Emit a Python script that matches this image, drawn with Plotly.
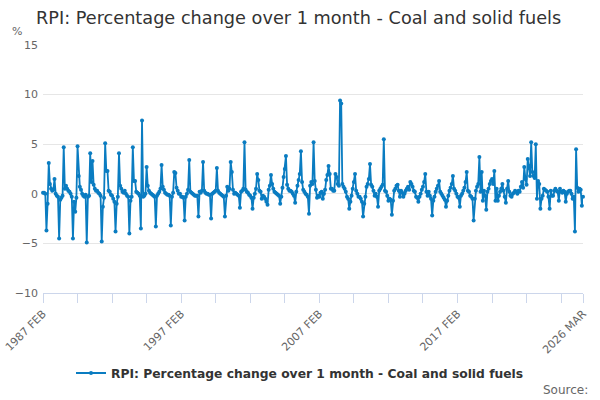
import plotly.graph_objects as go

# Monthly values (% change over 1 month), Feb 1987 .. Mar 2026
y1987 = [0.1, 0.1, 0.0, -3.7, -1.0, 3.1, 1.0, 0.5, 0.3, 0.4, 1.5]  # Feb-Dec
y1988 = [0.0, -0.2, -0.3, -4.5, -0.6, -0.4, -0.2, 4.7, 0.5, 0.8, 0.5, 0.3]
y1989 = [0.2, 0.0, -0.3, -4.5, -0.8, -1.8, -0.4, 4.8, 1.8, 0.7, 0.4, 0.0]
y1990 = [-0.2, -0.3, -0.1, -4.9, -0.3, -0.2, 4.1, 1.2, 3.3, 0.9, 0.5, 0.3]
y1991 = [0.3, 0.1, 0.0, -0.2, -4.8, -1.3, -0.4, 5.1, 2.3, 2.3, 0.3, 0.2]
y1992 = [-0.1, -0.2, -0.5, -0.8, -3.8, -1.0, -0.3, 4.1, 0.8, 0.5, 0.2, 0.1]
y1993 = [0.3, 0.0, -0.2, -0.3, -4.0, -0.7, -0.3, 4.7, 1.3, 1.3, 0.2, 0.1]
y1994 = [0.0, -0.2, -3.5, 7.4, -0.3, -0.2, 0.0, 2.7, 0.8, 0.3, 0.1, 0.0]
y1995 = [-0.1, -0.2, -0.3, -3.3, -0.2, 0.0, 0.2, 0.5, 2.9, 0.7, 0.4, 0.1]
y1996 = [0.0, -0.1, -0.1, -0.2, -3.2, -0.3, 0.1, 2.2, 2.1, 0.6, 0.3, 0.0]
y1997 = [0.0, -0.3, -0.3, -0.4, -2.7, -0.3, 0.0, 0.4, 3.4, 0.2, 0.1, 0.0]
y1998 = [-0.1, -0.2, -0.2, -0.2, -2.3, 0.2, 0.1, 0.3, 3.2, 0.3, 0.1, 0.0]
y1999 = [0.0, -0.1, -0.1, -2.5, 0.0, 0.1, 0.2, 0.3, 2.6, 0.3, 0.1, 0.0]
y2000 = [-0.1, -0.2, -0.3, -2.3, -0.2, 0.7, 0.3, 0.5, 3.2, 2.2, 0.4, 0.0]
y2001 = [0.1, 0.0, -0.1, -0.2, -1.4, 0.2, 0.3, 0.5, 5.2, 0.4, 0.2, 0.1]
y2002 = [-0.1, -0.2, -0.4, -1.5, -0.4, 0.0, 0.5, 2.0, 1.4, 0.3, 0.2, -0.5]
y2003 = [-0.2, -0.3, -0.5, -0.8, -1.1, 0.4, 0.8, 1.9, 1.0, 0.5, 0.2, 0.1]
y2004 = [0.0, -0.1, -0.2, -1.0, -0.3, 0.6, 1.7, 2.5, 3.8, 0.9, 0.5, 0.3]
y2005 = [0.3, 0.2, 0.0, -0.2, -0.9, 0.2, 0.8, 1.4, 2.0, 4.3, 1.2, 0.4]
y2006 = [0.2, 0.0, -0.1, -0.3, -2.0, 0.8, 1.2, 1.0, 5.2, 1.3, 0.4, -0.4]
y2007 = [-0.2, -0.3, 0.1, 0.2, -0.5, 0.0, 0.4, 1.4, 1.9, 2.8, 2.0, 0.5]
y2008 = [0.5, 0.3, 0.3, 2.0, 1.7, 1.0, 0.8, 9.4, 9.1, 1.0, 0.7, 0.5]
y2009 = [0.2, -0.3, -0.5, -1.5, -0.8, -0.2, 0.5, 1.2, 2.0, 0.3, 0.0, -0.3]
y2010 = [-0.3, -0.5, -0.8, -2.3, -1.0, -0.3, 0.7, 1.0, 1.5, 3.0, 0.9, 0.7]
y2011 = [0.3, -0.2, 0.0, -0.3, -1.3, 0.3, 0.5, 0.7, 0.9, 5.5, 0.3, 0.2]
y2012 = [-0.2, -0.7, -0.5, -0.6, -2.1, -0.7, 0.3, 0.5, 0.8, 0.9, 0.3, -0.3]
y2013 = [0.3, 0.1, -0.3, 0.0, 0.3, 0.5, 0.7, 0.4, 1.2, 1.0, 0.7, 0.3]
y2014 = [0.2, -0.3, -0.4, -0.8, -0.3, 0.0, 0.4, 0.7, 1.2, 2.0, 0.2, -0.2]
y2015 = [0.2, -0.2, -0.5, -2.2, -0.7, -0.3, 0.2, 0.5, 0.8, 1.3, 0.2, 0.0]
y2016 = [-0.2, -0.4, -0.6, -1.3, -0.7, -0.2, 0.3, 0.6, 1.0, 1.8, 0.5, 0.3]
y2017 = [0.0, -0.3, -0.4, -1.3, -0.2, 0.0, 0.3, 0.6, 1.2, 2.2, 0.3, 0.2]
y2018 = [-0.2, -0.3, -0.5, -2.7, -0.5, 0.3, 0.7, 1.0, 3.7, 0.2, 2.2, -0.7]
y2019 = [0.3, -0.2, -1.6, 0.2, 0.5, 1.0, 1.3, 1.5, 1.0, 2.3, -0.7, 0.5]
y2020 = [-0.7, -0.2, 0.2, 0.5, 1.0, 0.3, -0.3, -0.9, 0.5, 1.3, 0.2, -0.2]
y2021 = [-0.3, 0.0, 0.1, 0.3, 0.2, 0.0, 0.3, 0.2, 0.7, 1.2, 0.6, 2.7]
y2022 = [1.5, 0.9, 3.5, 2.8, 1.8, 5.2, 2.2, 1.8, 1.6, 5.0, -0.5, 1.3]
y2023 = [1.0, -1.5, -0.5, -0.2, 0.5, 0.4, 0.3, 0.2, -0.3, -1.5, 0.3, -0.2]
y2024 = [-0.2, 0.3, 0.5, 0.3, 0.2, -0.7, 0.5, 0.2, 0.1, 0.3, 0.2, -0.8]
y2025 = [0.0, 0.2, 0.3, 0.3, 0.0, -0.5, -0.3, -3.8, 4.5, 0.6, 0.2, 0.5]
y2026 = [0.4, -1.2, -0.3]  # Jan-Mar

yearly = [y1987, y1988, y1989, y1990, y1991, y1992, y1993, y1994, y1995, y1996,
          y1997, y1998, y1999, y2000, y2001, y2002, y2003, y2004, y2005, y2006,
          y2007, y2008, y2009, y2010, y2011, y2012, y2013, y2014, y2015, y2016,
          y2017, y2018, y2019, y2020, y2021, y2022, y2023, y2024, y2025, y2026]

month_names = ["JAN", "FEB", "MAR", "APR", "MAY", "JUN",
               "JUL", "AUG", "SEP", "OCT", "NOV", "DEC"]
tick_labels = ["1987 FEB", "1997 FEB", "2007 FEB", "2017 FEB", "2026 MAR"]

categories = []
values = []
for i, arr in enumerate(yearly):
    year = 1987 + i
    start = 1 if year == 1987 else 0
    for j, v in enumerate(arr):
        categories.append(f"{year} {month_names[start + j]}")
        values.append(v)

tickvals = categories[::30] + [categories[-1]]
ticktext = [c if c in tick_labels else "" for c in tickvals]

color = "#0a7cc1"
font = "DejaVu Sans"
fig = go.Figure()
fig.add_trace(go.Scatter(
    x=categories, y=values, mode="lines+markers",
    name="RPI: Percentage change over 1 month - Coal and solid fuels",
    line=dict(color=color, width=1.8),
    marker=dict(color=color, size=4),
    cliponaxis=False,
))

fig.update_layout(
    width=600, height=400,
    margin=dict(l=43, r=17, t=45, b=107, autoexpand=False),
    paper_bgcolor="white", plot_bgcolor="white",
    font=dict(family=font, color="#666666", size=11),
    title=dict(text="RPI: Percentage change over 1 month - Coal and solid fuels",
               x=36/600, xref="container", xanchor="left",
               y=1 - 18/400, yref="container", yanchor="middle",
               font=dict(family=font, size=17.7, color="#333333")),
    showlegend=True,
    legend=dict(orientation="h", xref="container", x=0.5, xanchor="center",
                yref="container", y=1 - 373/400, yanchor="middle",
                font=dict(family=font, size=12.3, color="#333333", weight="bold")),
    xaxis=dict(type="category", range=[0, len(categories) - 1], automargin=False,
               tickmode="array", tickvals=tickvals, ticktext=ticktext,
               tickangle=-45, showgrid=False, showline=True,
               linecolor="#ccd6eb", linewidth=1, ticks="outside",
               ticklen=9, tickcolor="#ccd6eb", tickfont=dict(size=11, color="#666666")),
    yaxis=dict(range=[-10, 15], tickvals=[-10, -5, 0, 5, 10, 15], automargin=False,
               showgrid=True, gridcolor="#e6e6e6", zeroline=False,
               ticks="", ticklabelstandoff=4, tickfont=dict(size=11, color="#666666")),
    annotations=[
        dict(text="%", xref="paper", yref="paper", x=(10 - 43)/540, y=(293 - 32)/248,
             xanchor="left", yanchor="middle", showarrow=False,
             font=dict(family=font, size=11, color="#666666")),
        dict(text="Source:", xref="paper", yref="paper", x=(590 - 43)/540, y=(293 - 390)/248,
             xanchor="right", yanchor="middle", showarrow=False,
             font=dict(family=font, size=12, color="#666666")),
    ],
)

fig.write_html("out.html", config={"displayModeBar": False},
               post_script="document.body.style.margin='0';document.body.style.padding='0';")
